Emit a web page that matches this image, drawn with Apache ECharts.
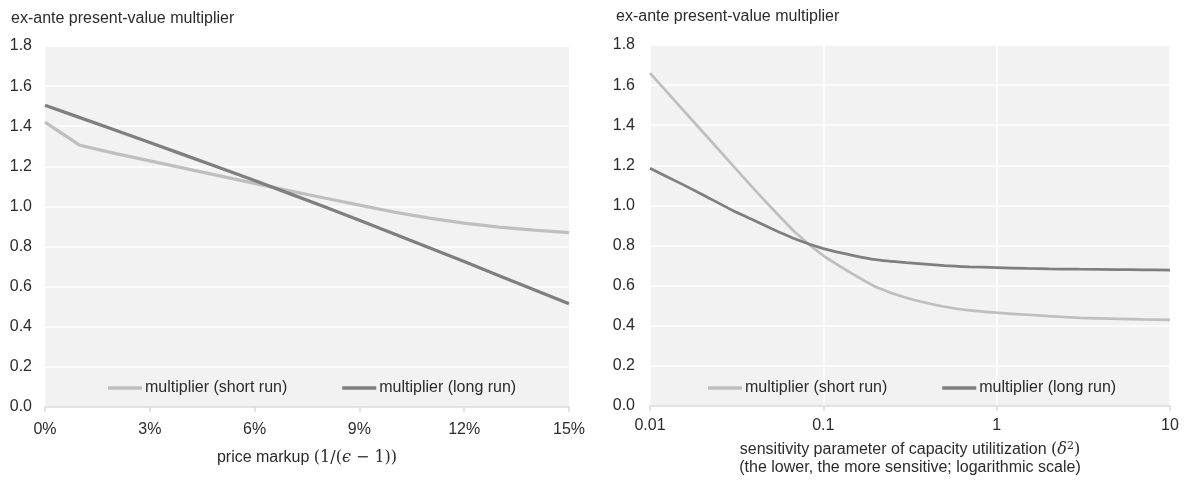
<!DOCTYPE html>
<html>
<head>
<meta charset="utf-8">
<script src="https://cdn.jsdelivr.net/npm/echarts@6/dist/echarts.min.js"></script>
<style>
  html, body { margin: 0; padding: 0; background: #fff; }
  #chart { width: 1190px; height: 482px; }
</style>
</head>
<body>
<div id="chart"></div>
<script>
// ---- Data ----
const titleText = 'ex-ante present-value multiplier';
const seriesNames = ['multiplier (short run)', 'multiplier (long run)'];

// Left panel: price markup (%)
const markupPct = [0, 1, 2, 3, 4, 5, 6, 7, 8, 9, 10, 11, 12, 13, 14, 15];
const shortRunMarkup = [1.42, 1.305, 1.265, 1.227, 1.19, 1.152, 1.115, 1.078, 1.042, 1.007, 0.972, 0.942, 0.917, 0.897, 0.882, 0.87];
const longRunMarkup = [1.505, 1.443, 1.381, 1.319, 1.256, 1.193, 1.129, 1.064, 0.998, 0.931, 0.863, 0.794, 0.725, 0.655, 0.585, 0.515];

// Right panel: sensitivity parameter (delta^2), log scale
const deltaSq = [0.01, 0.015, 0.02, 0.03, 0.04, 0.05, 0.07, 0.1, 0.15, 0.2, 0.3, 0.5, 0.7, 1, 1.5, 2, 3, 5, 7, 10];
const shortRunDelta = [1.66, 1.49, 1.37, 1.2, 1.08, 0.99, 0.86, 0.75, 0.655, 0.595, 0.54, 0.495, 0.477, 0.465, 0.455, 0.448, 0.44, 0.435, 0.432, 0.43];
const longRunDelta = [1.185, 1.11, 1.055, 0.975, 0.925, 0.885, 0.83, 0.785, 0.75, 0.73, 0.715, 0.7, 0.694, 0.69, 0.686, 0.684, 0.682, 0.68, 0.679, 0.678];

const yTicks = [0, 0.2, 0.4, 0.6, 0.8, 1.0, 1.2, 1.4, 1.6, 1.8];
const logTickLabels = ['0.01', '0.1', '1', '10'];

// ---- Styles ----
const FONT = 'Liberation Sans, Arial, sans-serif';
const MATH = 'DejaVu Serif, Liberation Serif, serif';
const TXT = '#2B2B2B';
const SHORT_C = '#BFBFBF';
const LONG_C = '#7F7F7F';
const PLOT_BG = '#F2F2F2';
const AXIS_C = '#D9D9D9';

const zip = (xs, ys) => xs.map((x, i) => [x, ys[i]]);

const yAxisCommon = {
  type: 'value', min: yTicks[0], max: yTicks[yTicks.length - 1], interval: 0.2,
  axisLine: { show: false }, axisTick: { show: false },
  axisLabel: { color: TXT, fontSize: 16, fontFamily: FONT, formatter: v => v.toFixed(1) },
  splitLine: { show: true, lineStyle: { color: '#FFFFFF', width: 1.5 } }
};

const legendCommon = {
  top: 375, itemWidth: 34, itemHeight: 3.5, itemGap: 55, icon: 'rect',
  textStyle: { fontSize: 16, color: TXT, fontFamily: FONT, padding: [0, 0, 0, -2] },
  data: seriesNames, selectedMode: false
};

const chart = echarts.init(document.getElementById('chart'), null, { renderer: 'canvas' });
chart.setOption({
  animation: false,
  backgroundColor: '#FFFFFF',
  textStyle: { fontFamily: FONT },
  title: [
    { text: titleText, left: 6, top: 6, textStyle: { fontSize: 16, fontWeight: 'normal', color: TXT, fontFamily: FONT } },
    { text: titleText, left: 611, top: 4, textStyle: { fontSize: 16, fontWeight: 'normal', color: TXT, fontFamily: FONT } }
  ],
  grid: [
    { left: 45, right: 1190 - 569, top: 46, bottom: 482 - 407, show: true, backgroundColor: PLOT_BG, borderWidth: 0 },
    { left: 650, right: 1190 - 1170, top: 45, bottom: 482 - 406, show: true, backgroundColor: PLOT_BG, borderWidth: 0 }
  ],
  legend: [
    Object.assign({ left: 103 }, legendCommon),
    Object.assign({ left: 703 }, legendCommon)
  ],
  xAxis: [
    {
      gridIndex: 0, type: 'value', min: markupPct[0], max: markupPct[markupPct.length - 1], interval: 3,
      axisLine: { show: true, lineStyle: { color: AXIS_C, width: 1.5 } },
      axisTick: { show: true, length: 5, lineStyle: { color: AXIS_C, width: 1.5 } },
      axisLabel: { color: TXT, fontSize: 16, fontFamily: FONT, margin: 15, formatter: '{value}%' },
      splitLine: { show: false },
      name: '{t|price markup }{m|(1/(}{i|ϵ}{m| − 1))}',
      nameLocation: 'middle', nameGap: 43,
      nameTextStyle: {
        color: TXT,
        rich: {
          t: { fontSize: 16, fontFamily: FONT, color: TXT },
          m: { fontSize: 16, fontFamily: MATH, color: TXT },
          i: { fontSize: 16, fontFamily: MATH, fontStyle: 'italic', color: TXT }
        }
      }
    },
    {
      gridIndex: 1, type: 'log', logBase: 10, min: deltaSq[0], max: deltaSq[deltaSq.length - 1],
      axisLine: { show: true, lineStyle: { color: AXIS_C, width: 1.5 } },
      axisTick: { show: true, length: 5, lineStyle: { color: AXIS_C, width: 1.5 } },
      axisLabel: {
        color: TXT, fontSize: 16, fontFamily: FONT, margin: 12,
        formatter: v => {
          const idx = Math.round(Math.log10(v) + 2);
          return logTickLabels[idx] !== undefined ? logTickLabels[idx] : String(v);
        }
      },
      splitLine: { show: true, lineStyle: { color: '#FFFFFF', width: 1.5 } },
      name: '{t|sensitivity parameter of capacity utilitization }{m|(}{i|δ}{s|2}{m|)}\n{t|(the lower, the more sensitive; logarithmic scale)}',
      nameLocation: 'middle', nameGap: 35,
      nameTextStyle: {
        color: TXT, lineHeight: 18,
        rich: {
          t: { fontSize: 16, fontFamily: FONT, color: TXT, lineHeight: 18 },
          m: { fontSize: 16, fontFamily: MATH, color: TXT, lineHeight: 18 },
          i: { fontSize: 16, fontFamily: MATH, fontStyle: 'italic', color: TXT, lineHeight: 18 },
          s: { fontSize: 11, fontFamily: MATH, color: TXT, lineHeight: 18, verticalAlign: 'top', padding: [0, 0, 6, 0] }
        }
      }
    }
  ],
  yAxis: [
    Object.assign({ gridIndex: 0 }, yAxisCommon, { axisLabel: Object.assign({}, yAxisCommon.axisLabel, { margin: 13 }) }),
    Object.assign({ gridIndex: 1 }, yAxisCommon, { axisLabel: Object.assign({}, yAxisCommon.axisLabel, { margin: 15 }) })
  ],
  series: [
    {
      name: seriesNames[0], type: 'line', xAxisIndex: 0, yAxisIndex: 0, showSymbol: false, symbol: 'none',
      color: SHORT_C, lineStyle: { color: SHORT_C, width: 3.25 }, data: zip(markupPct, shortRunMarkup), z: 3
    },
    {
      name: seriesNames[1], type: 'line', xAxisIndex: 0, yAxisIndex: 0, showSymbol: false, symbol: 'none',
      color: LONG_C, lineStyle: { color: LONG_C, width: 3.25 }, data: zip(markupPct, longRunMarkup), z: 4
    },
    {
      name: seriesNames[0], type: 'line', xAxisIndex: 1, yAxisIndex: 1, showSymbol: false, symbol: 'none', smooth: 0.2,
      color: SHORT_C, lineStyle: { color: SHORT_C, width: 2.75 }, data: zip(deltaSq, shortRunDelta), z: 3
    },
    {
      name: seriesNames[1], type: 'line', xAxisIndex: 1, yAxisIndex: 1, showSymbol: false, symbol: 'none', smooth: 0.2,
      color: LONG_C, lineStyle: { color: LONG_C, width: 2.75 }, data: zip(deltaSq, longRunDelta), z: 4
    }
  ]
});
</script>
</body>
</html>
